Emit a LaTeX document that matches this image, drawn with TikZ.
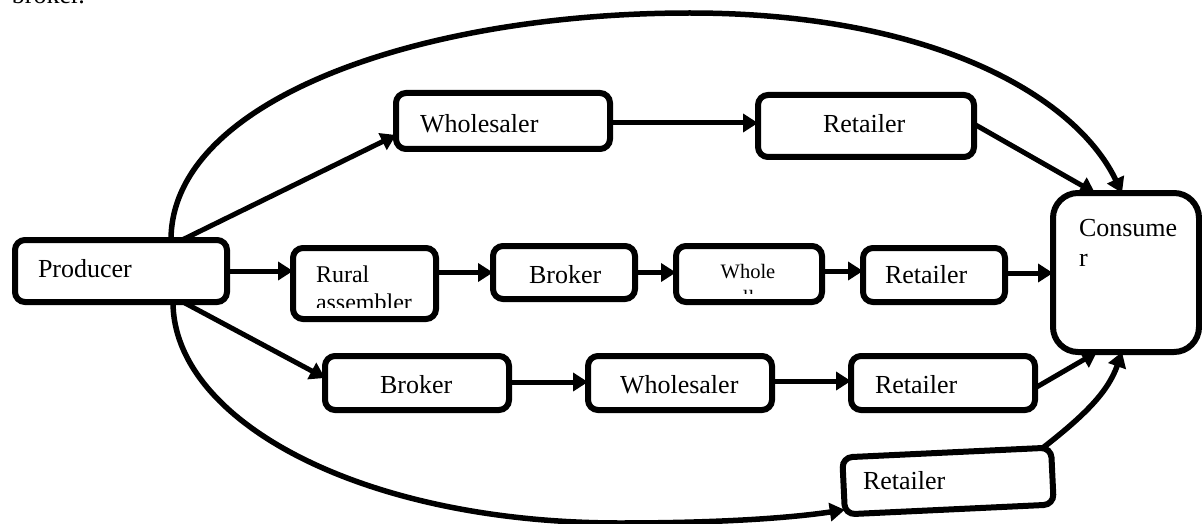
\documentclass[tikz,border=0pt]{standalone}
\usepackage{fontspec}
\setmainfont{Liberation Serif}
\usetikzlibrary{arrows.meta,calc}
\begin{document}
\begin{tikzpicture}[x=1pt,y=-1pt,
  box/.style={draw, line width=6pt, rounded corners=10pt, inner sep=0pt, outer sep=0pt},
  arr/.style={line width=5pt, -{Triangle[length=15pt,width=18pt]}},
  arcline/.style={line width=5.5pt, -{Triangle[length=15pt,width=18pt]}},
  lbl/.style={anchor=base west, inner sep=0pt, outer sep=0pt, font=\fontsize{26}{30}\selectfont},
  smlbl/.style={anchor=base west, inner sep=0pt, outer sep=0pt, font=\fontsize{24}{27}\selectfont},
  tnlbl/.style={anchor=base, inner sep=0pt, outer sep=0pt, font=\fontsize{20.5}{24}\selectfont}]
\useasboundingbox (0,0) rectangle (1202,524);

% top text line (cut)
\node[lbl] (brokertxt) at (12,4) {broker.};

% boxes
\node[box, minimum width=212pt, minimum height=62pt] (prod) at (121,271) {};
\node[box, minimum width=214pt, minimum height=56pt] (tw) at (503,121) {};
\node[box, minimum width=216pt, minimum height=62pt] (tr) at (866,126) {};
\node[box, rounded corners=25pt, minimum width=146pt, minimum height=159pt] (cons) at (1126,272.5) {};
\node[box, minimum width=143pt, minimum height=71pt] (rur) at (364.5,283.5) {};
\node[box, minimum width=142pt, minimum height=53pt] (mb) at (564,272.5) {};
\node[box, minimum width=146pt, minimum height=56pt] (mw) at (749,274) {};
\node[box, minimum width=142pt, minimum height=54pt] (mr) at (934,275) {};
\node[box, minimum width=184pt, minimum height=54pt] (bb) at (417,383) {};
\node[box, minimum width=184pt, minimum height=54pt] (bw) at (680,383) {};
\node[box, minimum width=184pt, minimum height=54pt] (br) at (943,383) {};
\node[box, rotate=2.7, minimum width=209pt, minimum height=57pt] (rt) at (948,481) {};

% labels
\node[lbl] (tprod) at (38,277) {Producer};
\node[lbl] (ttw) at (420,132) {Wholesaler};
\node[lbl] (ttr) at (823,132) {Retailer};
\node[lbl] (tcons1) at (1079,236) {Consume};
\node[lbl] (tcons2) at (1079,266) {r};
\node[smlbl] (trur1) at (316,282) {Rural};
\begin{scope}
  \clip (290,250) rectangle (437,307.5);
  \node[smlbl] (trur2) at (316,310) {assembler};
\end{scope}
\node[lbl] (tmb) at (529,283) {Broker};
\node[tnlbl] (tmw1) at (748,278) {Whole};
\begin{scope}
  \clip (676,250) rectangle (822,293);
  \node[tnlbl] (tmw2) at (748,304) {seller};
\end{scope}
\node[lbl] (tmr) at (885,283) {Retailer};
\node[lbl] (tbb) at (380,393) {Broker};
\node[lbl] (tbw) at (620,393) {Wholesaler};
\node[lbl] (tbr) at (875,393) {Retailer};
\node[lbl] (trt) at (863,489) {Retailer};

% straight connectors
\draw[arr] ([xshift=61pt]prod.north) -- ([yshift=-14pt]tw.west);
\draw[arr] (prod.east) -- (prod.east -| rur.west);
\draw[arr] ([xshift=62pt]prod.south) -- ([yshift=5pt]bb.west);
\draw[arr] ([yshift=-2pt]tw.east) -- ([yshift=-2pt]tw.east -| tr.west);
\draw[arr] ([yshift=2pt]tr.east) -- ([xshift=-31pt]cons.north);
\draw[arr] (rur.east |- mb.west) -- (mb.west);
\draw[arr] (mb.east) -- (mb.east -| mw.west);
\draw[arr] ([yshift=3pt]mw.east) -- ([yshift=3pt]mw.east -| mr.west);
\draw[arr] ([yshift=2pt]mr.east) -- ([yshift=2pt]mr.east -| cons.west);
\draw[arr] ([yshift=1pt]bb.east) -- ([yshift=1pt]bb.east -| bw.west);
\draw[arr] ([yshift=2pt]bw.east) -- ([yshift=2pt]bw.east -| br.west);
\draw[arr] ([yshift=-5pt]br.east) -- ([xshift=-29pt]cons.south);

% curved connectors
\draw[arcline] ([xshift=50pt]prod.north) .. controls (171,100) and (420,13) .. (690,13)
  .. controls (930,13) and (1075,95) .. ([xshift=-4pt]cons.north);
\draw[arcline] ([xshift=52pt]prod.south) .. controls (173,420) and (360,523) .. (620,523)
  .. controls (720,523) and (790,518) .. ($(rt.south west)!0.08!(rt.north west)$);
\draw[arcline] ($(rt.north east)!0.04!(rt.north west)$) .. controls (1085,415) and (1108,392) .. ([xshift=-4pt]cons.south);
\end{tikzpicture}
\end{document}
